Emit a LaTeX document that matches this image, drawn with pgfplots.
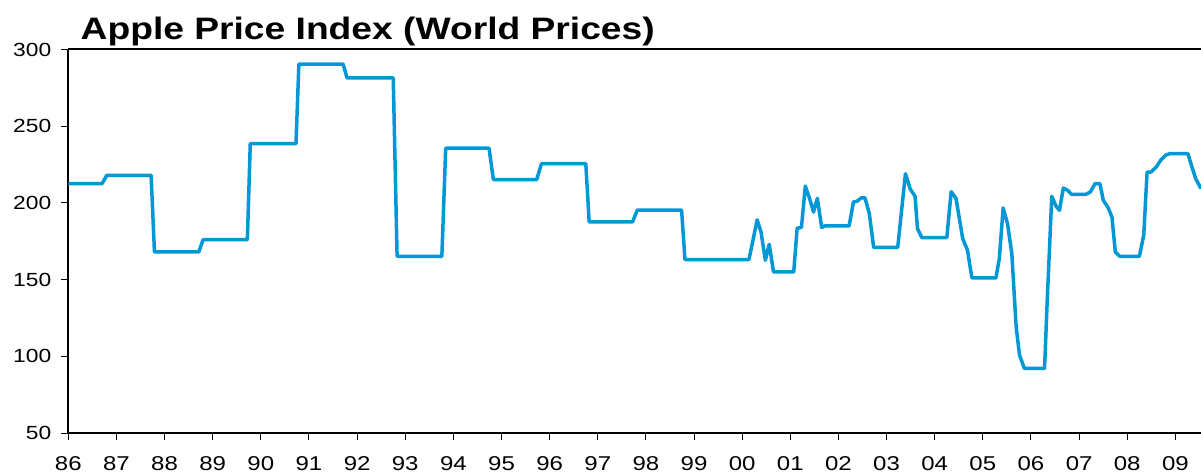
\documentclass[border=0pt]{standalone}
\usepackage{fontspec}
\setmainfont[FakeStretch=1.2]{Liberation Sans}
\usepackage{pgfplots}
\pgfplotsset{compat=1.18}
\usetikzlibrary{calc}
\definecolor{serieblue}{RGB}{0,153,214}

\pgfplotstableread{
x v
1986.00 212.5
1986.70 212.5
1986.80 218
1987.72 218
1987.79 168
1988.71 168
1988.80 176
1989.72 176
1989.78 238.6
1990.73 238.6
1990.79 290.5
1991.71 290.5
1991.79 281.5
1992.75 281.5
1992.83 165.2
1993.76 165.2
1993.84 235.7
1994.74 235.7
1994.83 215.2
1995.73 215.2
1995.83 225.6
1996.75 225.6
1996.82 187.6
1997.72 187.6
1997.82 195.3
1998.74 195.3
1998.81 163.1
2000.14 163.1
2000.31 189
2000.39 181
2000.48 162.6
2000.56 173
2000.65 155
2001.07 155
2001.14 183.5
2001.23 184
2001.31 211
2001.41 201.7
2001.48 194
2001.56 203
2001.65 184
2001.72 185
2002.22 185
2002.31 200.6
2002.38 201
2002.47 203.2
2002.55 203.2
2002.64 193
2002.73 171
2003.23 171
2003.39 219
2003.49 209
2003.59 204.3
2003.64 183.3
2003.73 177.4
2004.25 177.4
2004.34 207.3
2004.44 203
2004.58 176.7
2004.68 169.1
2004.77 151.1
2005.27 151.1
2005.34 163.7
2005.42 196.7
2005.51 186.5
2005.60 167
2005.69 119.2
2005.76 100.8
2005.86 92.1
2006.28 92.1
2006.33 132.2
2006.43 204.3
2006.52 197.8
2006.59 195.2
2006.67 209.7
2006.76 208.2
2006.84 205.6
2007.14 205.6
2007.23 207.1
2007.33 212.6
2007.43 212.6
2007.50 201.7
2007.60 196.9
2007.68 190.8
2007.75 168
2007.84 165.2
2008.25 165.2
2008.34 178.9
2008.41 220.1
2008.49 220.1
2008.60 223.4
2008.69 227.7
2008.79 231
2008.88 232.1
2009.26 232.1
2009.33 224.5
2009.42 215.8
2009.53 209.3
}\apple

\begin{document}
\begin{tikzpicture}
\begin{axis}[
  scale only axis,
  width=566.35pt, height=191.75pt,
  xmin=1986, xmax=2009.53,
  ymin=50, ymax=300,
  axis x line=box, axis y line=left,
  axis line style={-, line width=1pt, black},
  xtick={1986,1987,...,2009},
  xticklabels={86,87,88,89,90,91,92,93,94,95,96,97,98,99,00,01,02,03,04,05,06,07,08,09},
  ytick={50,100,150,200,250,300},
  xtick pos=bottom, ytick pos=left,
  tick align=outside,
  major tick length=3.5pt,
  every tick/.style={black, line width=0.5pt},
  /pgf/number format/assume math mode=true,
  xticklabel style={font=\fontsize{10}{12}\selectfont, yshift=-4.5pt},
  yticklabel style={font=\fontsize{9.5}{11}\selectfont, xshift=-1.5pt},
]
\addplot[serieblue, line width=1.75pt, line join=round] table[x=x, y=v] {\apple};
\end{axis}
\node[anchor=base west, font=\bfseries\fontsize{15.5}{18}\selectfont, inner sep=0pt]
  at ($(current axis.north west)+(6pt,4.75pt)$) {Apple Price Index (World Prices)};
\pgfresetboundingbox
\path ($(current axis.south west)+(-34.15pt,-19.5pt)$) rectangle ($(current axis.north east)+(0pt,24.75pt)$);
\end{tikzpicture}
\end{document}
